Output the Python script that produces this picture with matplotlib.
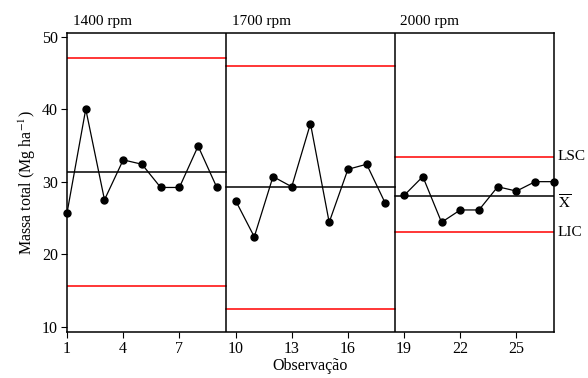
import numpy as np
import matplotlib
matplotlib.use("Agg")
import matplotlib.pyplot as plt
import matplotlib.transforms as mtransforms

plt.rcParams['font.family'] = ['Liberation Serif', 'DejaVu Serif']
plt.rcParams['mathtext.fontset'] = 'stix'

# data
obs = list(range(1, 28))
massa = [25.7, 40.0, 27.5, 33.0, 32.4, 29.2, 29.2, 34.9, 29.2,
         27.4, 22.4, 30.7, 29.3, 38.0, 24.4, 31.7, 32.4, 27.0,
         28.1, 30.7, 24.4, 26.1, 26.1, 29.3, 28.7, 30.0, 30.0]
fases = ["1400 rpm", "1700 rpm", "2000 rpm"]
limites_fase = [1, 9.5, 18.5, 27]
media = [31.3, 29.2, 28.0]
lsc = [47.0, 46.0, 33.4]
lic = [15.6, 12.4, 23.0]

fig = plt.figure(figsize=(5.88, 3.78), dpi=100)
ax = fig.add_axes([0.114, 0.122, 0.828, 0.791])

for i in range(3):
    x0, x1 = limites_fase[i], limites_fase[i + 1]
    ax.plot([x0, x1], [lsc[i], lsc[i]], color='red', lw=1.1)
    ax.plot([x0, x1], [lic[i], lic[i]], color='red', lw=1.1)
    ax.plot([x0, x1], [media[i], media[i]], color='black', lw=1.1)
    ax.text(x0 + 0.3, 1.015, fases[i], transform=mtransforms.blended_transform_factory(ax.transData, ax.transAxes),
            ha='left', va='bottom', fontsize=11)

for xv in limites_fase[1:3]:
    ax.axvline(xv, color='black', lw=1.1)

# segments per phase (line broken between phases)
idx = [(0, 9), (9, 18), (18, 27)]
for a, b in idx:
    ax.plot(obs[a:b], massa[a:b], color='black', lw=0.9, marker='o', ms=5, clip_on=False)

tr = mtransforms.blended_transform_factory(ax.transAxes, ax.transData)
ax.text(1.008, lsc[2], "LSC", transform=tr, ha='left', va='center', fontsize=11)
ax.text(1.008, media[2] - 0.9, r"$\overline{\mathrm{X}}$", transform=tr, ha='left', va='center', fontsize=11)
ax.text(1.008, lic[2], "LIC", transform=tr, ha='left', va='center', fontsize=11)

ax.set_xlim(1, 27)
ax.set_ylim(9.3, 50.5)
ax.set_xticks([1, 4, 7, 10, 13, 16, 19, 22, 25])
ax.set_yticks([10, 20, 30, 40, 50])
ax.tick_params(direction='out', length=4, width=0.8, labelsize=11.5, pad=2.5)
for s in ax.spines.values():
    s.set_linewidth(1.1)

ax.set_xlabel("Observação", fontsize=11.5, labelpad=1)
ax.set_ylabel("Massa total (Mg ha$^{-1}$)", fontsize=11.5, labelpad=3)

plt.savefig("out.png", dpi=100)
